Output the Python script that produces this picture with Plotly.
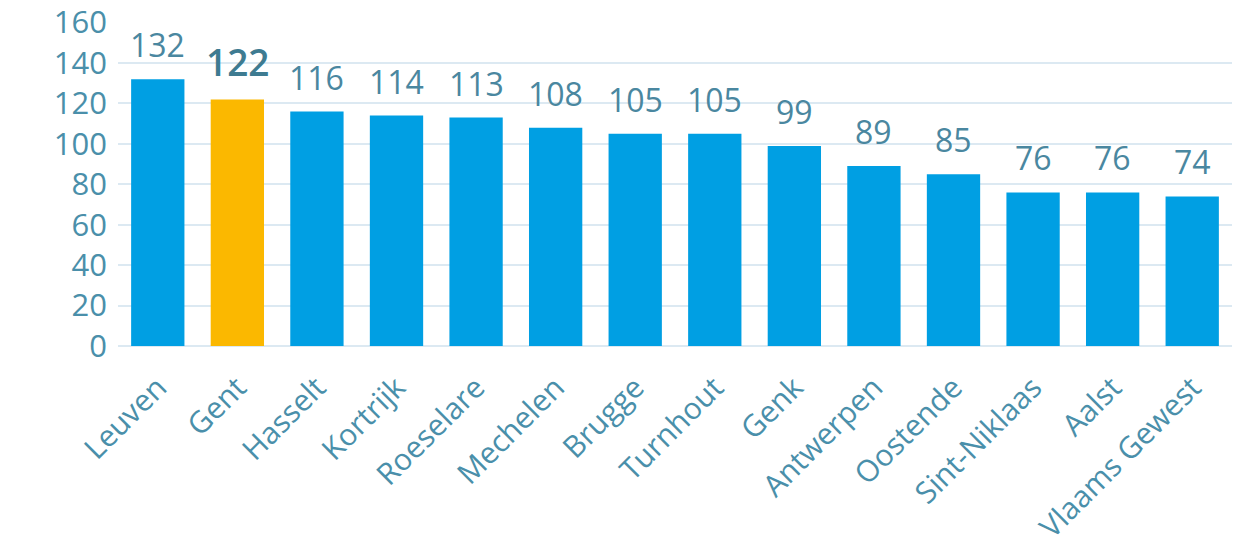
import plotly.graph_objects as go

categories = ["Leuven", "Gent", "Hasselt", "Kortrijk", "Roeselare", "Mechelen", "Brugge",
              "Turnhout", "Genk", "Antwerpen", "Oostende", "Sint-Niklaas", "Aalst", "Vlaams Gewest"]
values = [132, 122, 116, 114, 113, 108, 105, 105, 99, 89, 85, 76, 76, 74]
highlight = "Gent"

bar_colors = ["#FBB800" if c == highlight else "#009FE3" for c in categories]

fig = go.Figure()
fig.add_trace(go.Bar(
    x=categories, y=values, marker=dict(color=bar_colors, line=dict(width=0)),
    hoverinfo="skip",
))
for c, v in zip(categories, values):
    hl = c == highlight
    fig.add_annotation(
        x=c, y=v, text=str(v), showarrow=False, yanchor="bottom", yshift=11 if not hl else 10,
        font=dict(family="Open Sans", size=37 if hl else 32,
                  color="#3E7B91" if hl else "#4A87A0", weight=600 if hl else 400),
    )
# page body adds an 8px offset, so the figure is sized 8px smaller
fig.update_layout(
    width=1237, height=544, margin=dict(l=110, r=13, t=14, b=206, autoexpand=False),
    paper_bgcolor="white", plot_bgcolor="white", bargap=0.33, showlegend=False,
    font=dict(family="Open Sans", color="#4A8FAA"),
)
fig.update_yaxes(range=[0, 160.3], tickvals=[0, 20, 40, 60, 80, 100, 120, 140, 160],
                 showgrid=True, gridcolor="#DCE9F2", gridwidth=2,
                 zeroline=True, zerolinecolor="#DCE9F2", zerolinewidth=2, automargin=False,
                 tickfont=dict(size=31, color="#4A8FAA"), ticks="", ticklabelstandoff=10,
                 ticklabeloverflow="allow")
fig.update_xaxes(tickangle=-45, tickfont=dict(size=30, color="#4A8FAA"), showline=False, ticks="",
                 automargin=False, ticklabelstandoff=17, ticklabeloverflow="allow")
fig.write_html("out.html")
